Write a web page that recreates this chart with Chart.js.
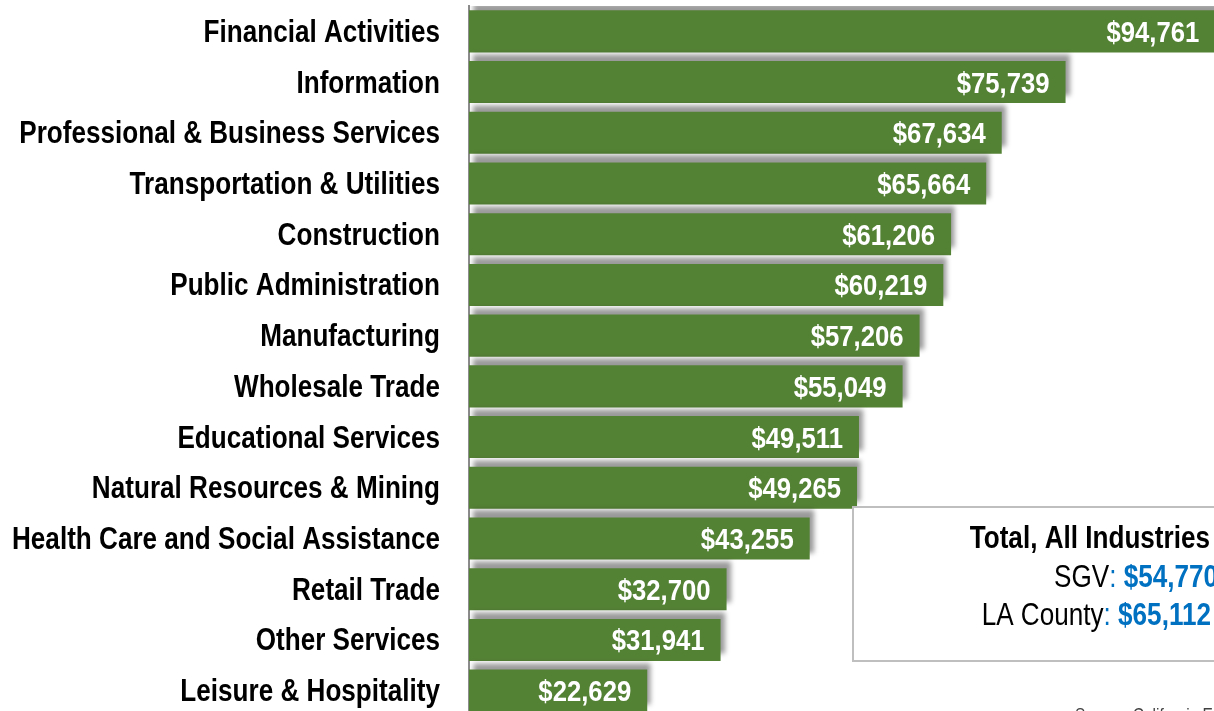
<!DOCTYPE html>
<html>
<head>
<meta charset="utf-8">
<script src="https://cdn.jsdelivr.net/npm/chart.js@4/dist/chart.umd.min.js"></script>
<style>
    html, body { margin: 0; padding: 0; background: #fff; overflow: hidden; }
    #wrap { width: 1214px; height: 711px; overflow: hidden; position: relative; }
</style>
</head>
<body>
<div id="wrap"><canvas id="chartwages" width="1400" height="716"></canvas></div>
<script>
// average annual wages by industry (SGV)
const industries = [
    'Financial Activities', 'Information', 'Professional & Business Services',
    'Transportation & Utilities', 'Construction', 'Public Administration',
    'Manufacturing', 'Wholesale Trade', 'Educational Services',
    'Natural Resources & Mining', 'Health Care and Social Assistance',
    'Retail Trade', 'Other Services', 'Leisure & Hospitality'
]
const wages = [94761, 75739, 67634, 65664, 61206, 60219, 57206, 55049, 49511, 49265, 43255, 32700, 31941, 22629]
const totalLines = [
    [['Total, All Industries', 'bold', '#000']],
    [['SGV', 'normal', '#000'], [': ', 'normal', '#0070c0'], ['$54,770', 'bold', '#0070c0']],
    [['LA County', 'normal', '#000'], [': ', 'normal', '#0070c0'], ['$65,112', 'bold', '#0070c0']]
]
const sourceText = 'Source: California Employment Development Department'

// no narrow font installed, so squeeze Liberation Sans horizontally
const fam = '"Liberation Sans", Arial, sans-serif'
const money = v => '$' + v.toLocaleString('en-US')
let squeeze = 0.8

function narrowText(ctx, txt, x, y, font, color, align, k) {
    ctx.save()
    ctx.font = font
    ctx.fillStyle = color
    ctx.textAlign = align
    ctx.textBaseline = 'alphabetic'
    ctx.translate(x, y)
    ctx.scale(squeeze * (k || 1), 1)
    ctx.fillText(txt, 0, 0)
    ctx.restore()
}

// gray drop shadow sitting above each bar
const barShadow = {
    id: 'barShadow',
    beforeDatasetDraw(chart) {
        const ctx = chart.ctx
        ctx.save()
        ctx.shadowColor = 'rgba(0,0,0,0.4)'
        ctx.shadowBlur = 5
        ctx.shadowOffsetX = 4
        ctx.shadowOffsetY = -7
    },
    afterDatasetDraw(chart) {
        chart.ctx.restore()
    }
}

const textLayer = {
    id: 'textLayer',
    beforeDraw(chart) {
        const ctx = chart.ctx
        ctx.save()
        ctx.font = 'bold 32px ' + fam
        squeeze = 428 / ctx.measureText('Health Care and Social Assistance').width
        ctx.restore()
    },
    afterDatasetsDraw(chart) {
        const ctx = chart.ctx
        const yScale = chart.scales.y
        industries.forEach((name, i) => {
            narrowText(ctx, name, 440, yScale.getPixelForTick(i) + 10.5, 'bold 32px ' + fam, '#000', 'right')
        })
        chart.getDatasetMeta(0).data.forEach((bar, i) => {
            narrowText(ctx, money(wages[i]), bar.x - 16, bar.y + 10.5, 'bold 30px ' + fam, '#fff', 'right', 1.05)
        })
    },
    afterDraw(chart) {
        const ctx = chart.ctx
        ctx.save()
        ctx.fillStyle = '#fff'
        ctx.fillRect(853, 507, 500, 154)
        ctx.strokeStyle = '#bfbfbf'
        ctx.lineWidth = 2
        ctx.strokeRect(853, 507, 500, 154)
        ctx.restore()
        const rights = [1210, 1218, 1211]
        const bases = [548, 587, 625]
        totalLines.forEach((parts, li) => {
            let x = rights[li]
            for (let p = parts.length - 1; p >= 0; p--) {
                const [txt, w, col] = parts[p]
                const font = w + ' 32px ' + fam
                narrowText(ctx, txt, x, bases[li], font, col, 'right')
                ctx.save()
                ctx.font = font
                x -= ctx.measureText(txt).width * squeeze
                ctx.restore()
            }
        })
        narrowText(ctx, sourceText, 1075, 721, '19px ' + fam, '#404040', 'left')
    }
}

const ctx = document.getElementById('chartwages')
const chart = new Chart(ctx, {
    type: 'bar',
    data: {
        labels: industries,
        datasets: [{
            data: wages,
            backgroundColor: '#548235',
            borderWidth: 0,
            barPercentage: 0.83,
            categoryPercentage: 1
        }]
    },
    options: {
        indexAxis: 'y',
        responsive: false,
        animation: false,
        devicePixelRatio: 1,
        layout: {padding: {top: 6, bottom: 0, left: 0, right: 0}},
        plugins: {legend: {display: false}, tooltip: {enabled: false}},
        scales: {
            x: {display: false, min: 0, max: 118200},
            y: {
                afterFit(scale) { scale.width = 469 },
                grid: {display: true, color: 'transparent', drawTicks: false},
                border: {display: true, color: '#8c8c8c', width: 2},
                ticks: {display: false}
            }
        }
    },
    plugins: [barShadow, textLayer]
})
</script>
</body>
</html>
